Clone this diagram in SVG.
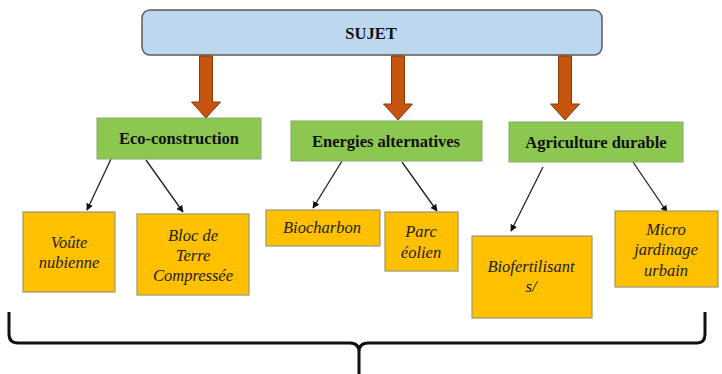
<svg xmlns="http://www.w3.org/2000/svg" width="722" height="374" viewBox="0 0 722 374">
<defs>
<style>
.top{fill:#BDD7EE;stroke:#5a5a5a;stroke-width:1.5}
.cat{fill:#8CC84F;stroke:#8aa870;stroke-width:1}
.leaf{fill:#FFC000;stroke:#9a9a6a;stroke-width:1.2}
.big{fill:#C5540F;stroke:#8a3a0a;stroke-width:1}
.con{stroke:#222;stroke-width:1.3;fill:none;marker-end:url(#ah)}
.tb{font-family:"Liberation Serif",serif;font-weight:bold;font-size:16.5px;fill:#111;text-anchor:middle}
.ti{font-family:"Liberation Serif",serif;font-style:italic;font-size:16.5px;fill:#222;text-anchor:middle}
</style>
<marker id="ah" viewBox="0 0 10 10" refX="9" refY="5" markerWidth="7" markerHeight="7" orient="auto" markerUnits="userSpaceOnUse"><path d="M0,0 L10,5 L0,10 z" fill="#111"/></marker>
</defs>
<rect width="722" height="374" fill="#fff"/>
<g id="sujet"><rect class="top" x="142" y="10" width="460" height="45" rx="8"/><text class="tb" x="371" y="39">SUJET</text></g>
<g id="connectors">
<path class="big" d="M199.5,56 h13 v46 h8 l-14.5,16 l-14.5,-16 h8 z"/>
<path class="big" d="M391.5,56 h13 v48 h8 l-14.5,16 l-14.5,-16 h8 z"/>
<path class="big" d="M558.5,56 h13 v48 h8 l-14.5,16 l-14.5,-16 h8 z"/>
<line class="con" x1="111" y1="159" x2="87" y2="210"/>
<line class="con" x1="146" y1="160" x2="183" y2="212"/>
<line class="con" x1="342" y1="161" x2="313" y2="208"/>
<line class="con" x1="402" y1="162" x2="437" y2="211"/>
<line class="con" x1="543" y1="167" x2="511" y2="231"/>
<line class="con" x1="633" y1="162" x2="667" y2="212"/>
<path d="M9,312 V334 Q9,343 18,343 H350 Q359,343 359,352 V374 M359,374 V352 Q359,343 368,343 H697 Q705,343 705,334 V312" fill="none" stroke="#111" stroke-width="3"/>
</g>
<g id="eco"><rect class="cat" x="97" y="118" width="164" height="41"/><text class="tb" x="179" y="144">Eco-construction</text></g>
<g id="energies"><rect class="cat" x="291" y="121" width="191" height="40"/><text class="tb" x="386" y="147">Energies alternatives</text></g>
<g id="agri"><rect class="cat" x="509" y="122" width="174" height="40"/><text class="tb" x="596" y="148">Agriculture durable</text></g>
<g id="voute"><rect class="leaf" x="23" y="212" width="92" height="80"/><text class="ti" x="69" y="248">Voûte</text><text class="ti" x="69" y="268">nubienne</text></g>
<g id="bloc"><rect class="leaf" x="137" y="214" width="112" height="81"/><text class="ti" x="193" y="241">Bloc de</text><text class="ti" x="193" y="261">Terre</text><text class="ti" x="193" y="281">Compressée</text></g>
<g id="biocharbon"><rect class="leaf" x="266" y="210" width="114" height="36"/><text class="ti" x="322" y="233">Biocharbon</text></g>
<g id="parc"><rect class="leaf" x="385" y="212" width="73" height="59"/><text class="ti" x="421" y="237">Parc</text><text class="ti" x="421" y="258">éolien</text></g>
<g id="biofert"><rect class="leaf" x="472" y="236" width="120" height="82"/><text class="ti" x="531" y="272">Biofertilisant</text><text class="ti" x="531" y="292">s/</text></g>
<g id="micro"><rect class="leaf" x="615" y="211" width="103" height="76"/><text class="ti" x="666" y="235">Micro</text><text class="ti" x="666" y="255">jardinage</text><text class="ti" x="666" y="276">urbain</text></g>
</svg>
